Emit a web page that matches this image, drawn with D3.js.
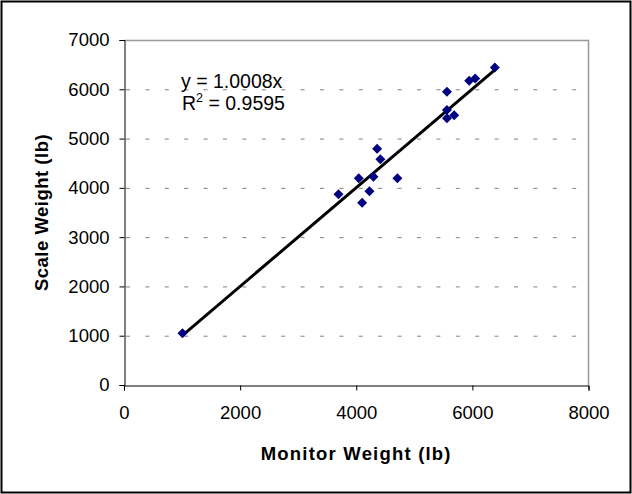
<!DOCTYPE html>
<html><head><meta charset="utf-8">
<script src="https://cdn.jsdelivr.net/npm/d3@7"></script>
<style>body{margin:0;background:#fff}svg{display:block;font-family:"Liberation Sans",Arial,sans-serif}</style>
</head><body><svg id="c" width="632" height="494"></svg>
<script>
const monitorWeight = [1008, 3694, 4043, 4101, 4227, 4296, 4359, 4416, 4708, 5562, 5562, 5562, 5687, 5945, 6048, 6387];
const scaleWeight   = [1048, 3868, 4193, 3698, 3929, 4225, 4793, 4578, 4193, 5410, 5578, 5949, 5471, 6172, 6221, 6444];
const slope = 1.0008;
const xTicks = [0, 2000, 4000, 6000, 8000];
const yTicks = [0, 1000, 2000, 3000, 4000, 5000, 6000, 7000];

const svg = d3.select("#c");
svg.append("rect").attr("x",1.5).attr("y",1.5).attr("width",629).attr("height",491).attr("fill","#fff").attr("stroke","#000").attr("stroke-width",2);

const L=124, R=588.5, T=40, B=385;
const FS=18.5;
const x = d3.scaleLinear().domain([0,8000]).range([L,R]);
const y = d3.scaleLinear().domain([0,7000]).range([B,T]);

// gridlines
svg.append("g").selectAll("line").data(yTicks.filter(d=>d>0 && d<7000)).join("line")
  .attr("x1",L+2).attr("x2",R).attr("y1",d=>y(d)+0.5).attr("y2",d=>y(d)+0.5)
  .attr("stroke","#808080").attr("stroke-width",1).attr("stroke-dasharray","4,15.4");
// plot border top/right
svg.append("path").attr("d",`M${L},${T+0.5}H${R}V${B}`).attr("fill","none").attr("stroke","#999").attr("stroke-width",1.5);

// axes
const xa = svg.append("g").attr("transform",`translate(0,${B+0.5})`)
  .call(d3.axisBottom(x).tickValues(xTicks).tickSize(5).tickPadding(15.5).tickFormat(d3.format("d")));
const ya = svg.append("g").attr("transform",`translate(${L+0.5},0)`)
  .call(d3.axisLeft(y).tickValues(yTicks).tickSize(5).tickPadding(10).tickFormat(d3.format("d")));
[xa,ya].forEach(a=>{
  a.attr("font-size",FS).attr("font-family","Liberation Sans, Arial, sans-serif");
  a.select(".domain").attr("stroke","#000");
  a.selectAll(".tick line").attr("stroke","#000");
  a.selectAll("text").attr("font-size",FS).attr("fill","#000");
});

// trendline
const xMin = d3.min(monitorWeight), xMax = d3.max(monitorWeight);
svg.append("line").attr("x1",x(xMin)).attr("y1",y(slope*xMin)).attr("x2",x(xMax)).attr("y2",y(slope*xMax))
  .attr("stroke","#000").attr("stroke-width",3);

// points
svg.append("g").selectAll("path").data(monitorWeight.map((d,i)=>[d,scaleWeight[i]])).join("path")
  .attr("d",d3.symbol(d3.symbolSquare, 50))
  .attr("transform",d=>`translate(${x(d[0])},${y(d[1])}) rotate(45)`)
  .attr("fill","#000080");

// equation
const EFS=19.5;
svg.append("text").attr("x",181).attr("y",87.5).attr("font-size",EFS).attr("fill","#000").text("y = 1.0008x");
const t2 = svg.append("text").attr("x",182).attr("y",109.5).attr("font-size",EFS).attr("fill","#000");
t2.append("tspan").text("R");
t2.append("tspan").attr("font-size",12.5).attr("dy",-7.5).text("2");
t2.append("tspan").attr("dy",7.5).text(" = 0.9595");

// axis titles
svg.append("text").attr("x",(L+R)/2).attr("y",460).attr("text-anchor","middle").attr("font-size",18.5)
  .attr("font-weight","bold").attr("letter-spacing",1.2).text("Monitor Weight (lb)");
svg.append("text").attr("transform",`translate(47.5,${(T+B)/2}) rotate(-90)`).attr("text-anchor","middle")
  .attr("font-size",18.5).attr("font-weight","bold").attr("letter-spacing",0.5).text("Scale Weight (lb)");
</script></body></html>
